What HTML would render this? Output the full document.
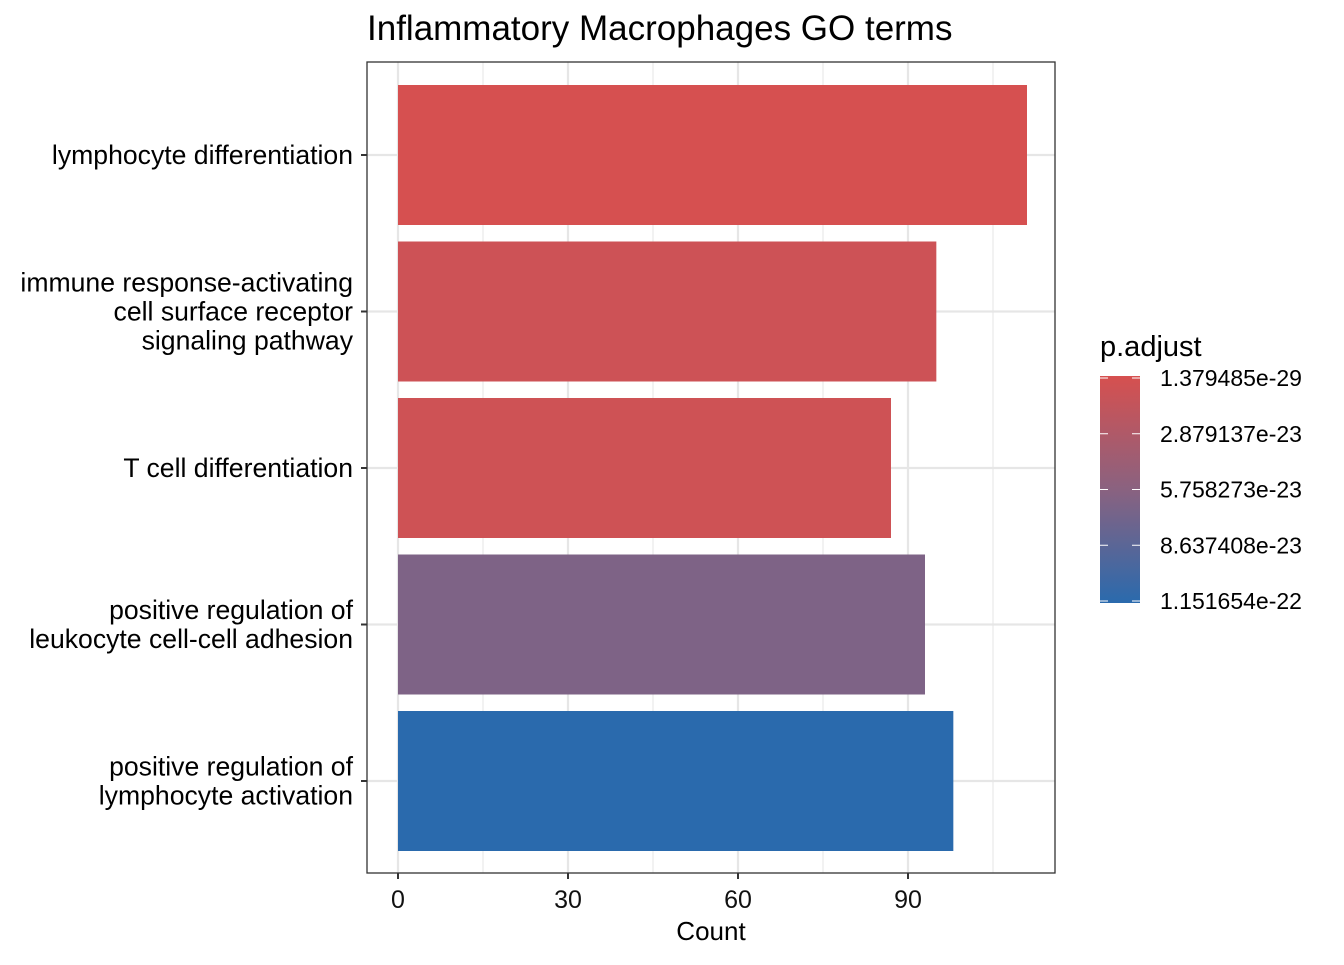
<!DOCTYPE html>
<html><head><meta charset="utf-8"><style>
body{margin:0;background:#fff;font-family:"Liberation Sans",Arial,sans-serif}
</style></head><body>
<svg id="chart" width="1344" height="960" xmlns="http://www.w3.org/2000/svg">
<defs><linearGradient id="lg" x1="0" y1="0" x2="0" y2="1">
<stop offset="0" stop-color="#d6504f"/><stop offset="0.5" stop-color="#8a6280"/><stop offset="1" stop-color="#2a6aad"/></linearGradient></defs>
<text x="367" y="40" font-size="35" fill="#000">Inflammatory Macrophages GO terms</text>
<g id="grid"></g><g id="bars"></g><g id="axes"></g>
<rect x="367" y="62" width="688" height="811" fill="none" stroke="#333" stroke-width="1.3"/>
<text x="711" y="940" font-size="26" text-anchor="middle">Count</text>
<g>
<text x="1100" y="356" font-size="29">p.adjust</text>
<rect x="1100" y="376" width="40" height="227" fill="url(#lg)"/>
<g id="legticks"></g>
</g>
</svg>
<script>
const categories=["lymphocyte differentiation","immune response-activating|cell surface receptor|signaling pathway","T cell differentiation","positive regulation of|leukocyte cell-cell adhesion","positive regulation of|lymphocyte activation"];
const counts=[111,95,87,93,98];
const padj=[1.379485e-29,7e-24,6e-24,6.5e-23,1.151654e-22];
const xTicks=[0,30,60,90];
const legendLabels=["1.379485e-29","2.879137e-23","5.758273e-23","8.637408e-23","1.151654e-22"];
const legendValues=[1.379485e-29,2.879137e-23,5.758273e-23,8.637408e-23,1.151654e-22];
const NS="http://www.w3.org/2000/svg";
const x=v=>398+v*(170/30);
const bandY=i=>155+i*156.5;
const pmin=1.379485e-29,pmax=1.151654e-22;
const legY=v=>378+(v-pmin)/(pmax-pmin)*223;
function col(p){const t=(p-pmin)/(pmax-pmin);const a=[214,80,80],m=[138,98,128],b=[42,106,173];
let c;if(t<0.5){const s=t*2;c=a.map((v,i)=>v+(m[i]-v)*s);}else{const s=(t-0.5)*2;c=m.map((v,i)=>v+(b[i]-v)*s);}
return `rgb(${c.map(Math.round).join(',')})`;}
function mk(tag,attrs,parent){const e=document.createElementNS(NS,tag);for(const k in attrs)e.setAttribute(k,attrs[k]);parent.appendChild(e);return e;}
const grid=document.getElementById('grid'),bars=document.getElementById('bars'),axes=document.getElementById('axes');
for(let v=0;v<=120;v+=15){if(x(v)>1055)break;const g=mk('line',{x1:x(v),x2:x(v),y1:62,y2:873,stroke:'#e6e6e6','stroke-width':v%30===0?2.2:1.1},grid);

}
categories.forEach((c,i)=>{const y=bandY(i);
const gl=mk('line',{x1:367,x2:1055,y1:y,y2:y,stroke:'#e6e6e6','stroke-width':2.2},grid);


const r=mk('rect',{x:x(0),y:y-70,width:x(counts[i])-x(0),height:140,fill:col(padj[i])},bars);


const tk=mk('line',{x1:361,x2:367,y1:y,y2:y,stroke:'#333','stroke-width':2},axes);


const lines=c.split('|');const t=mk('text',{x:353,'font-size':26.6,'text-anchor':'end'},axes);


lines.forEach((l,j)=>{const s=mk('tspan',{x:353,y:y+9+(j-(lines.length-1)/2)*29},t);s.textContent=l;});});
xTicks.forEach(v=>{const tk=mk('line',{x1:x(v),x2:x(v),y1:873,y2:879,stroke:'#333','stroke-width':2},axes);


const t=mk('text',{x:x(v),y:908,'font-size':25,'text-anchor':'middle',fill:'#111'},axes);t.textContent=v;

});
const lt=document.getElementById('legticks');
legendLabels.forEach((l,i)=>{const y=legY(legendValues[i]);
mk('line',{x1:1100,x2:1108,y1:y,y2:y,stroke:'#fff','stroke-width':1},lt);
mk('line',{x1:1132,x2:1140,y1:y,y2:y,stroke:'#fff','stroke-width':1},lt);
const t=mk('text',{x:1160,y:y+8,'font-size':23},lt);t.textContent=l;

});
</script>
</body></html>
